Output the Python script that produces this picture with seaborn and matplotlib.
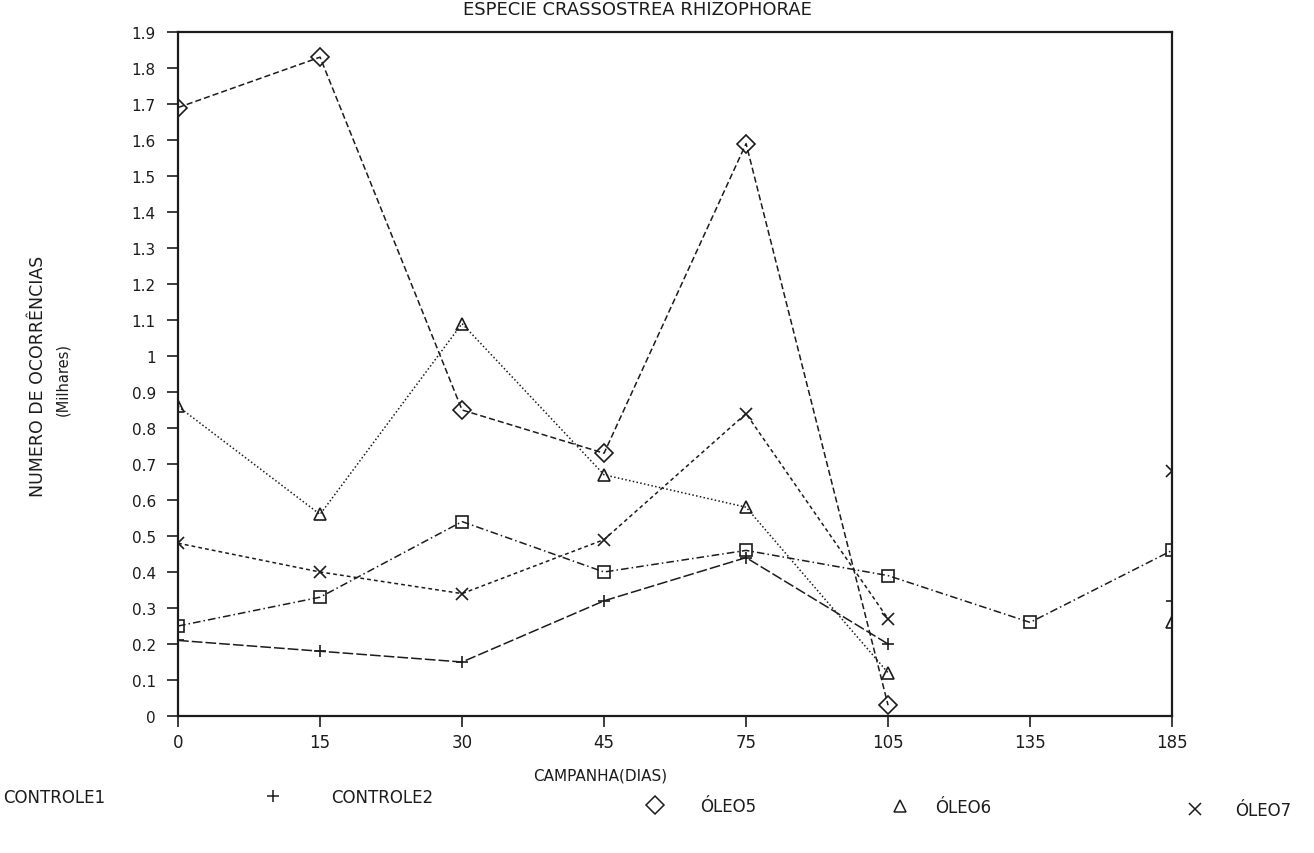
import matplotlib.pyplot as plt
import numpy as np
import pandas as pd
import seaborn as sns
from matplotlib.lines import Line2D


# campanhas (dias) e valores (milhares)
CAMPANHAS = ["0", "15", "30", "45", "75", "105", "135", "185"]
SERIES = ["CONTROLE1", "CONTROLE2", "ÓLEO5", "ÓLEO6", "ÓLEO7"]

controle1 = [0.25, 0.33, 0.54, 0.40, 0.46, 0.39, 0.26, 0.46]
controle2 = [0.21, 0.18, 0.15, 0.32, 0.44, 0.20, np.nan, 0.32]
oleo5 = [1.69, 1.83, 0.85, 0.73, 1.59, 0.03, np.nan, np.nan]
oleo6 = [0.86, 0.56, 1.09, 0.67, 0.58, 0.12, np.nan, 0.26]
oleo7 = [0.48, 0.40, 0.34, 0.49, 0.84, 0.27, np.nan, 0.68]

Y_TICKS = [round(0.1 * i, 1) for i in range(20)]

MARKERS = {"CONTROLE1": "s", "CONTROLE2": "+", "ÓLEO5": "D", "ÓLEO6": "^", "ÓLEO7": "x"}
DASHES = {
    "CONTROLE1": (5, 2, 1, 2),
    "CONTROLE2": (7, 2),
    "ÓLEO5": (4, 2),
    "ÓLEO6": (1, 1.5),
    "ÓLEO7": (2.5, 2),
}
INK = "#1c1c1c"


def long_table():
    """Monta a tabela longa; cada trecho sem falhas vira uma unidade."""
    rows = []
    for name, values in zip(SERIES, [controle1, controle2, oleo5, oleo6, oleo7]):
        seg = 0
        for pos, v in enumerate(values):
            if np.isnan(v):
                seg += 1
                continue
            rows.append({"serie": name, "pos": pos, "valor": v, "trecho": f"{name}-{seg}"})
    return pd.DataFrame(rows)


sns.set_style("ticks")
plt.rcParams["font.family"] = ["DejaVu Sans"]

fig = plt.figure(figsize=(13.14, 8.54), dpi=100)
ax = fig.add_axes([0.1355, 0.1604, 0.7565, 0.801])

df = long_table()
for name in SERIES:
    sub = df[df["serie"] == name]
    sns.lineplot(
        data=sub, x="pos", y="valor", units="trecho", estimator=None, sort=False,
        marker=MARKERS[name], linestyle=(0, DASHES[name]),
        color=INK, lw=1.1, ms=9, mfc="none", mec=INK, mew=1.2, legend=False, ax=ax,
    )

ax.set_xlim(0, len(CAMPANHAS) - 1)
ax.set_ylim(0, 1.9)
ax.set_xticks(range(len(CAMPANHAS)))
ax.set_xticklabels(CAMPANHAS, fontsize=12, color=INK)
ax.set_yticks(Y_TICKS)
ax.set_yticklabels([f"{v:g}" for v in Y_TICKS], fontsize=11, color=INK)
ax.tick_params(axis="both", direction="out", length=8, width=1.2, color=INK, pad=8)
ax.tick_params(axis="x", pad=4)
for side in ["left", "right", "top", "bottom"]:
    ax.spines[side].set_visible(True)
    ax.spines[side].set_linewidth(1.6)
    ax.spines[side].set_color(INK)
ax.set_xlabel("")
ax.set_ylabel("")

fig.text(637 / 1314, 1 - 10 / 854, "ESPECIE CRASSOSTREA RHIZOPHORAE",
         ha="center", va="center", fontsize=13, color=INK)
fig.text(38 / 1314, 1 - 376 / 854, "NUMERO DE OCORRÊNCIAS", rotation=90,
         ha="center", va="center", fontsize=12.5, color=INK)
fig.text(63 / 1314, 1 - 380 / 854, "(Milhares)", rotation=90,
         ha="center", va="center", fontsize=10.5, color=INK)
fig.text(600 / 1314, 1 - 776 / 854, "CAMPANHA(DIAS)",
         ha="center", va="center", fontsize=11, color=INK)

# legenda espalhada na base, como no original (o simbolo da primeira fica fora)
legend_spots = {
    "CONTROLE1": (-60, 798, 2.6),
    "CONTROLE2": (263, 798, 2.9),
    "ÓLEO5": (645, 807, 2.1),
    "ÓLEO6": (890, 808, 1.5),
    "ÓLEO7": (1185, 811, 1.8),
}
for name, (px, py, gap) in legend_spots.items():
    handle = Line2D([], [], ls="none", marker=MARKERS[name], ms=9, mfc="none",
                    mec=INK, mew=1.1)
    fig.legend(handles=[handle], labels=[name], loc="center left",
               bbox_to_anchor=(px / 1314, 1 - py / 854), frameon=False,
               fontsize=12, handlelength=1.2, handletextpad=gap,
               borderpad=0, borderaxespad=0, labelcolor=INK)

fig.savefig("out.png", dpi=100)
